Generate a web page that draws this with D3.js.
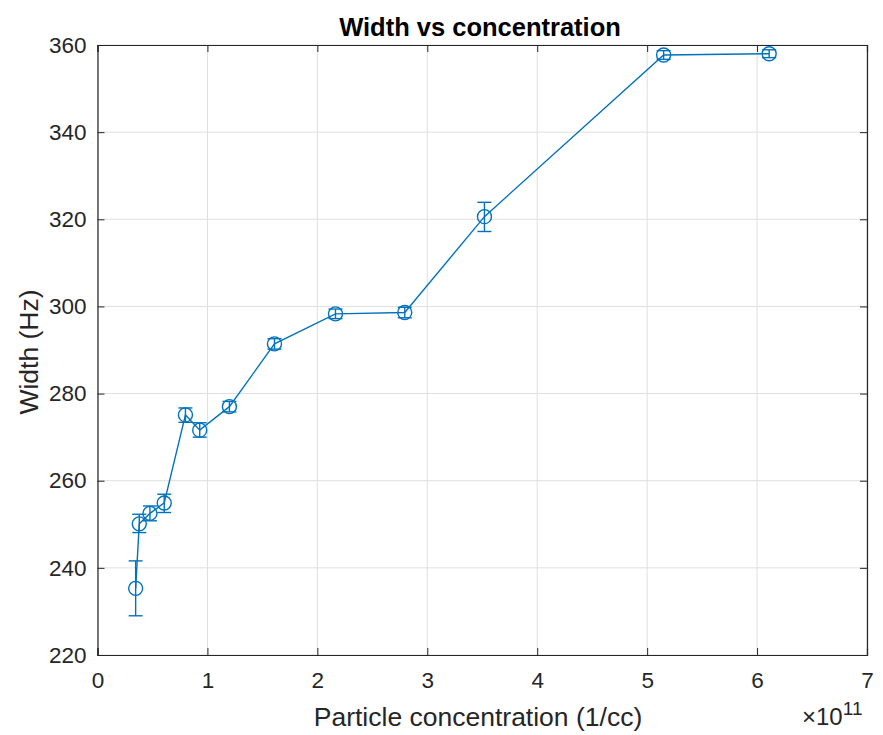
<!DOCTYPE html>
<html><head><meta charset="utf-8">
<script src="https://cdn.jsdelivr.net/npm/d3@7"></script>
<style>body{margin:0;background:#fff}svg{display:block}text{font-family:"Liberation Sans",Arial,Helvetica,sans-serif}</style>
</head><body><svg id="c" width="883" height="735"></svg>
<script>
const conc = [0.347, 0.38, 0.477, 0.607, 0.80, 0.93, 1.20, 1.61, 2.165, 2.795, 3.52, 5.15, 6.11];
const width = [235.3, 250.1, 252.5, 254.9, 275.1, 271.6, 277.0, 291.4, 298.3, 298.6, 320.6, 357.7, 358.0];
const errLow = [6.3, 2.0, 1.7, 2.2, 1.7, 1.6, 1.2, 1.2, 1.1, 1.2, 3.4, 1.0, 0.9];
const errHigh = [6.3, 2.2, 1.7, 2.0, 1.6, 1.7, 1.2, 1.2, 1.1, 1.2, 3.3, 1.0, 0.9];
const xTicks = [0, 1, 2, 3, 4, 5, 6, 7];
const yTicks = [220, 240, 260, 280, 300, 320, 340, 360];

const L = 97.5, R = 867, T = 45, B = 655;
const svg = d3.select("#c");
const x = d3.scaleLinear().domain([0, 7]).range([L, R]);
const y = d3.scaleLinear().domain([220, 360]).range([B, T]);
const axc = "#262626", col = "#0072BD";

// grid
svg.append("g").selectAll("line").data(xTicks).join("line")
  .attr("x1", d => x(d)).attr("x2", d => x(d)).attr("y1", T).attr("y2", B)
  .attr("stroke", "#dfdfdf").attr("stroke-width", 1);
svg.append("g").selectAll("line").data(yTicks).join("line")
  .attr("y1", d => y(d)).attr("y2", d => y(d)).attr("x1", L).attr("x2", R)
  .attr("stroke", "#dfdfdf").attr("stroke-width", 1);

// axes
const xa = svg.append("g").attr("transform", `translate(0,${B})`)
  .call(d3.axisBottom(x).tickValues(xTicks).tickSize(-7).tickPadding(17).tickFormat(d3.format("d")));
const xt = svg.append("g").attr("transform", `translate(0,${T})`)
  .call(d3.axisTop(x).tickValues(xTicks).tickSize(-7).tickFormat(""));
const ya = svg.append("g").attr("transform", `translate(${L},0)`)
  .call(d3.axisLeft(y).tickValues(yTicks).tickSize(-7).tickPadding(11).tickFormat(d3.format("d")));
const yr = svg.append("g").attr("transform", `translate(${R},0)`)
  .call(d3.axisRight(y).tickValues(yTicks).tickSize(-7).tickFormat(""));
[xa, xt, ya, yr].forEach(g => {
  g.attr("font-family", null).attr("font-size", null);
  g.select(".domain").attr("stroke", axc).attr("stroke-width", 1.2);
  g.selectAll(".tick line").attr("stroke", axc).attr("stroke-width", 1);
  g.selectAll("text").attr("fill", axc).style("font-size", "22.5px");
});

// line
svg.append("path").datum(conc.map((c, i) => [c, width[i]]))
  .attr("fill", "none").attr("stroke", col).attr("stroke-width", 1.4)
  .attr("d", d3.line().x(d => x(d[0])).y(d => y(d[1])));

// error bars
const eb = svg.append("g").attr("stroke", col).attr("stroke-width", 1.4).attr("fill", "none");
conc.forEach((c, i) => {
  const cx = x(c), y0 = y(width[i] - errLow[i]), y1 = y(width[i] + errHigh[i]);
  eb.append("line").attr("x1", cx).attr("x2", cx).attr("y1", y0).attr("y2", y1);
  eb.append("line").attr("x1", cx - 7).attr("x2", cx + 7).attr("y1", y0).attr("y2", y0);
  eb.append("line").attr("x1", cx - 7).attr("x2", cx + 7).attr("y1", y1).attr("y2", y1);
});
// markers
svg.append("g").selectAll("circle").data(conc).join("circle")
  .attr("cx", d => x(d)).attr("cy", (d, i) => y(width[i])).attr("r", 7)
  .attr("fill", "none").attr("stroke", col).attr("stroke-width", 1.4);

// labels
svg.append("text").attr("x", 480).attr("y", 35.5).attr("text-anchor", "middle")
  .style("font-size", "25.5px").style("font-weight", "bold").attr("fill", "#000").text("Width vs concentration");
svg.append("text").attr("x", 478).attr("y", 725.5).attr("text-anchor", "middle")
  .style("font-size", "26.5px").attr("fill", axc).text("Particle concentration (1/cc)");
svg.append("text").attr("transform", `translate(38,352) rotate(-90)`).attr("text-anchor", "middle")
  .style("font-size", "26.5px").attr("fill", axc).text("Width (Hz)");
const ex = svg.append("text").attr("x", 802).attr("y", 725).attr("fill", axc).style("font-size", "24px");
ex.append("tspan").text("\u00d710");
ex.append("tspan").attr("dy", -10).style("font-size", "19px").text("11");
</script></body></html>
